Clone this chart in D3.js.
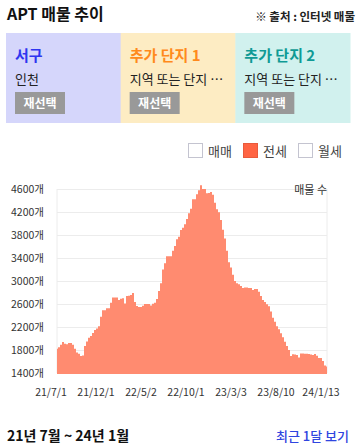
<!DOCTYPE html>
<html><head><meta charset="utf-8">
<script src="https://cdn.jsdelivr.net/npm/d3@7"></script>
<style>
html,body{margin:0;padding:0;background:#fff;}
svg{display:block;font-family:"Noto Sans CJK KR","Noto Sans",sans-serif;}
</style></head>
<body>
<script>
// ---- data ----
const values = [
1820,1850,1890,1940,1910,1900,1920,1920,1890,1820,1755,1735,1695,1705,1870,1950,2015,2045,2095,2150,2175,2215,2380,2490,2490,2525,2525,2620,2715,2715,2715,2670,2690,2700,2610,2740,2745,2755,2790,2635,2565,2550,2550,2570,2600,2600,2600,
2575,2605,2620,2685,2825,2960,3200,3310,3430,3430,3430,3525,3610,3725,3770,3885,3925,3985,4080,4180,4255,4420,4420,4510,4580,4665,4600,4600,4525,4530,4550,4500,4360,4250,4195,4060,3890,3740,3525,3325,3235,3110,3000,2960,2945,2915,2880,
2885,2885,2880,2880,2845,2860,2860,2815,2740,2670,2635,2595,2560,2470,2360,2290,2215,2160,2090,2020,1945,1870,1800,1695,1725,1720,1715,1670,1740,1740,1735,1735,1730,1720,1715,1730,1700,1660,1660,1610,1530,1515
];
const xTickLabels = ["21/7/1","21/12/1","22/5/2","22/10/1","23/3/3","23/8/10","24/1/13"];
const yTicks = [1400,1800,2200,2600,3000,3400,3800,4200,4600];
const cardTitles = ["서구","추가 단지 1","추가 단지 2"];
const cardSubs = ["인천","지역 또는 단지 …","지역 또는 단지 …"];
const legendItems = ["매매","전세","월세"];
const legendActive = [false,true,false];

// ---- styles ----
const W=359,H=448;
const cardBg=["#d5d6fb","#fdecc3","#d1f1ee"];
const cardColor=["#2f35f0","#ff8a1c","#0f9a95"];
const areaColor="#ff8b70";

const svg=d3.select("body").append("svg").attr("width",W).attr("height",H);

// title
svg.append("text").attr("x",7).attr("y",20).attr("font-size",16).attr("font-weight",700)
  .attr("fill","#111").text("APT 매물 추이");
svg.append("text").attr("x",355).attr("y",21).attr("text-anchor","end").attr("font-size",11.5)
  .attr("font-weight",700).attr("fill","#222").text("※ 출처 : 인터넷 매물");

// cards
const cx=d3.scaleBand().domain(d3.range(3)).range([6,350]);
const cards=svg.selectAll("g.card").data(cardTitles).join("g").attr("class","card")
  .attr("transform",(d,i)=>`translate(${cx(i)},33)`);
cards.append("rect").attr("width",cx.bandwidth()+0.5).attr("height",90).attr("fill",(d,i)=>cardBg[i]);
cards.append("text").attr("x",9).attr("y",28).attr("font-size",15).attr("font-weight",700)
  .attr("fill",(d,i)=>cardColor[i]).text(d=>d);
cards.append("text").attr("x",9).attr("y",51).attr("font-size",13).attr("fill","#222")
  .text((d,i)=>cardSubs[i]);
cards.append("rect").attr("x",9).attr("y",59).attr("width",50).attr("height",22).attr("fill","#999");
cards.append("text").attr("x",34).attr("y",75).attr("text-anchor","middle").attr("font-size",12)
  .attr("font-weight",700).attr("fill","#fff").text("재선택");

// legend
const lx=[188,243,298];
const lg=svg.selectAll("g.leg").data(legendItems).join("g").attr("class","leg")
  .attr("transform",(d,i)=>`translate(${lx[i]},143)`);
lg.append("rect").attr("x",0.5).attr("y",0.5).attr("width",14).attr("height",14)
  .attr("fill",(d,i)=>legendActive[i]?"#ff6443":"#fff")
  .attr("stroke",(d,i)=>legendActive[i]?"#e85a3c":"#c4c4d0");
lg.append("text").attr("x",20).attr("y",12.5).attr("font-size",13).attr("fill","#444").text(d=>d);

// chart
const x=d3.scaleLinear().domain([0,values.length-1]).range([57,327]);
const y=d3.scaleLinear().domain([1400,4600]).range([373,189]);

const yAxis=d3.axisLeft(y).tickValues(yTicks).tickSize(-270).tickPadding(13).tickFormat(d=>d+"개");
const gy=svg.append("g").attr("transform","translate(57,0)").call(yAxis);
gy.select(".domain").remove();
gy.selectAll(".tick line").attr("stroke","#ececec");
gy.selectAll(".tick text").attr("font-size",10.5).attr("fill","#333")
  .attr("font-family","'Noto Sans CJK KR',sans-serif");

// vertical frame lines
svg.selectAll("line.vf").data([0,values.length-1]).join("line").attr("class","vf")
  .attr("x1",d=>x(d)).attr("x2",d=>x(d)).attr("y1",y(4600)).attr("y2",y(1400))
  .attr("stroke","#ececec");

const area=d3.area().x((d,i)=>x(i)).y0(y(1400)+1).y1(d=>y(d)).curve(d3.curveStep);
svg.append("path").datum(values).attr("d",area).attr("fill",areaColor);

svg.append("text").attr("x",327).attr("y",194).attr("text-anchor","end").attr("font-size",11)
  .attr("fill","#333").text("매물 수");

// x labels
const step=(values.length-1)/(xTickLabels.length-1);
svg.selectAll("text.xl").data(xTickLabels).join("text").attr("class","xl")
  .attr("x",(d,i)=>x(i*step)-6).attr("y",396).attr("text-anchor","middle")
  .attr("font-size",10.5).attr("fill","#333").text(d=>d);

// footer
svg.append("text").attr("x",7).attr("y",441).attr("font-size",14).attr("font-weight",700)
  .attr("fill","#111").text("21년 7월 ~ 24년 1월");
svg.append("text").attr("x",349).attr("y",441).attr("text-anchor","end").attr("font-size",13)
  .attr("font-weight",500).attr("fill","#2f45e0").text("최근 1달 보기");
</script>
</body></html>
